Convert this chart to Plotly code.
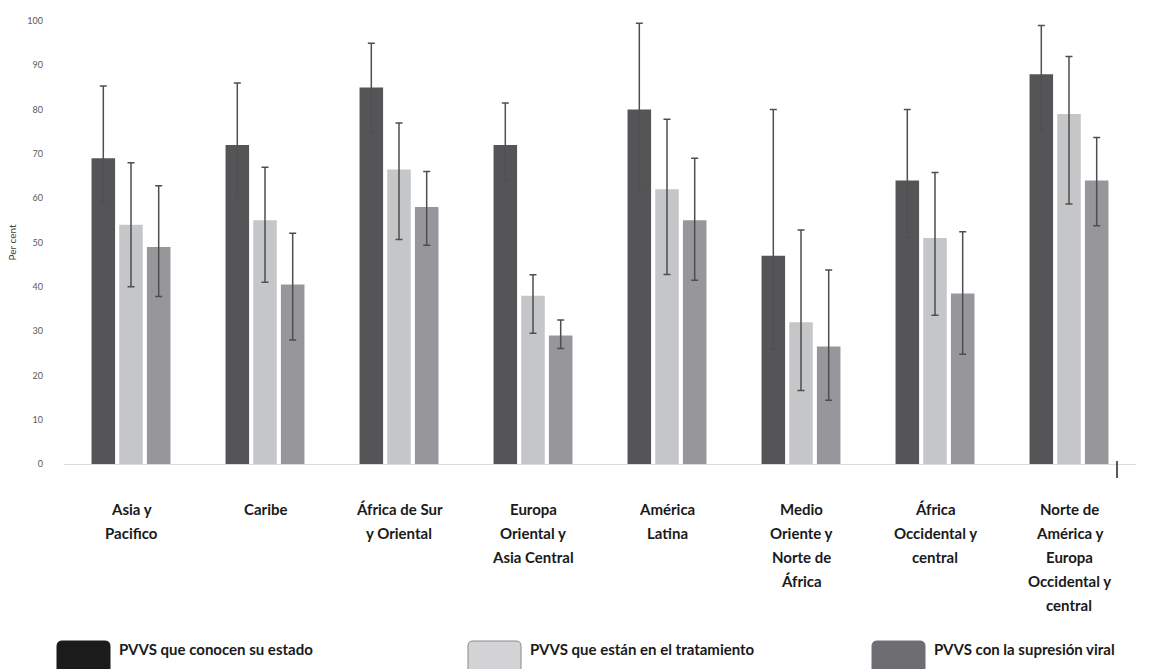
import plotly.graph_objects as go

# Regions (category labels, one list entry per printed line)
regions = [
    "Asia y Pacifico",
    "Caribe",
    "África de Sur y Oriental",
    "Europa Oriental y Asia Central",
    "América Latina",
    "Medio Oriente y Norte de África",
    "África Occidental y central",
    "Norte de América y Europa Occidental y central",
]
region_lines = [
    ["Asia y", "Pacifico"],
    ["Caribe"],
    ["África de Sur", "y Oriental"],
    ["Europa", "Oriental y", "Asia Central"],
    ["América", "Latina"],
    ["Medio", "Oriente y", "Norte de", "África"],
    ["África", "Occidental y", "central"],
    ["Norte de", "América y", "Europa", "Occidental y", "central"],
]

series_names = [
    "PVVS que conocen su estado",
    "PVVS que están en el tratamiento",
    "PVVS con la supresión viral",
]

# Per cent values and uncertainty ranges
conocen = [69, 72, 85, 72, 80, 47, 64, 88]
conocen_plus = [16.3, 14, 10, 9.5, 19.5, 33, 16, 11]
conocen_minus = [10, 12, 10, 8, 18, 21, 13, 12.5]

tratamiento = [54, 55, 66.5, 38, 62, 32, 51, 79]
tratamiento_plus = [14, 12, 10.5, 4.7, 15.8, 20.8, 14.8, 13]
tratamiento_minus = [14, 14, 15.8, 8.5, 19.2, 15.4, 17.4, 20.3]

supresion = [49, 40.5, 58, 29, 55, 26.5, 38.5, 64]
supresion_plus = [13.8, 11.6, 8, 3.5, 14, 17.3, 13.9, 9.7]
supresion_minus = [11.2, 12.5, 8.6, 2.9, 13.5, 12.1, 13.7, 10.2]

y_ticks = list(range(0, 101, 10))

bar_colors = ["#555557", "#c5c6c8", "#97979b"]
whisker_colors = ["#505052", "#4e4e4e", "#4e4e4e"]
swatch_colors = ["#1c1b1b", "#d3d3d5", "#6e6e72"]
swatch_borders = ["#1c1b1b", "#8a8a8a", "#6e6e72"]

fig = go.Figure()
series = [
    (conocen, conocen_plus, conocen_minus),
    (tratamiento, tratamiento_plus, tratamiento_minus),
    (supresion, supresion_plus, supresion_minus),
]
for (vals, plus, minus), name, color, wcol in zip(series, series_names, bar_colors, whisker_colors):
    fig.add_trace(go.Bar(
        x=regions, y=vals, name=name,
        marker=dict(color=color, line=dict(width=0)),
        error_y=dict(type="data", symmetric=False, array=plus, arrayminus=minus,
                     color=wcol, thickness=1.5, width=3.5),
        showlegend=False,
    ))

# Multi-line category labels below the axis
label_font = dict(family="Lato", size=15, color="#1a1a1a")
for region, lines in zip(regions, region_lines):
    for i, line in enumerate(lines):
        fig.add_annotation(
            x=region, xref="x", y=0, yref="paper",
            text="<b>" + line + "</b>",
            showarrow=False, yanchor="middle", xanchor="center",
            yshift=-45 - 24 * i, font=label_font,
        )

# Legend row drawn with swatches and text
plot_left, plot_width = 64, 1072
plot_bottom, plot_height = 464, 443


def px_x(px):
    return (px - plot_left) / plot_width


def px_y(py):
    return (plot_bottom - py) / plot_height


def rounded_rect(x0, y0, x1, y1, r):
    # SVG path of a rounded rectangle in pixel units, converted to paper units
    rx = r / plot_width
    ry = r / plot_height
    X0, X1 = px_x(x0), px_x(x1)
    Y0, Y1 = px_y(y0), px_y(y1)  # Y0 is top in paper units
    return (f"M {X0 + rx},{Y0} L {X1 - rx},{Y0} Q {X1},{Y0} {X1},{Y0 - ry} "
            f"L {X1},{Y1 + ry} Q {X1},{Y1} {X1 - rx},{Y1} L {X0 + rx},{Y1} "
            f"Q {X0},{Y1} {X0},{Y1 + ry} L {X0},{Y0 - ry} Q {X0},{Y0} {X0 + rx},{Y0} Z")


swatch_x = [57, 468, 872]
for name, sx, fill, border in zip(series_names, swatch_x, swatch_colors, swatch_borders):
    fig.add_shape(type="path", xref="paper", yref="paper",
                  path=rounded_rect(sx, 641, sx + 53, 682, 5),
                  fillcolor=fill, line=dict(color=border, width=1))
    fig.add_annotation(x=px_x(sx + 60), xref="paper", y=px_y(649), yref="paper",
                       text="<b>" + name + "</b>", showarrow=False,
                       xanchor="left", yanchor="middle",
                       font=dict(family="Lato", size=15, color="#1a1a1a"))

# Small end mark at the right of the baseline
fig.add_shape(type="line", xref="paper", yref="paper",
              x0=px_x(1117), x1=px_x(1117), y0=px_y(461), y1=px_y(478),
              line=dict(color="#222222", width=1.5))

fig.update_layout(
    width=1172, height=669,
    margin=dict(l=64, r=36, t=21, b=205),
    paper_bgcolor="white", plot_bgcolor="white",
    barmode="group", bargap=0.38, bargroupgap=0.15,
    font=dict(family="Lato", color="#595959"),
    xaxis=dict(showticklabels=False, ticks="", showgrid=False,
               showline=True, linecolor="#dcdcdc", linewidth=1,
               range=[-0.5, 7.5]),
    yaxis=dict(range=[0, 100], tickvals=y_ticks, showgrid=False, zeroline=False,
               showline=False, ticks="", tickfont=dict(size=9, color="#595959"),
               ticklabelstandoff=20,
               title=dict(text="Per cent", font=dict(size=10, color="#404040"),
                          standoff=8)),
)

fig.write_html("out.html")
